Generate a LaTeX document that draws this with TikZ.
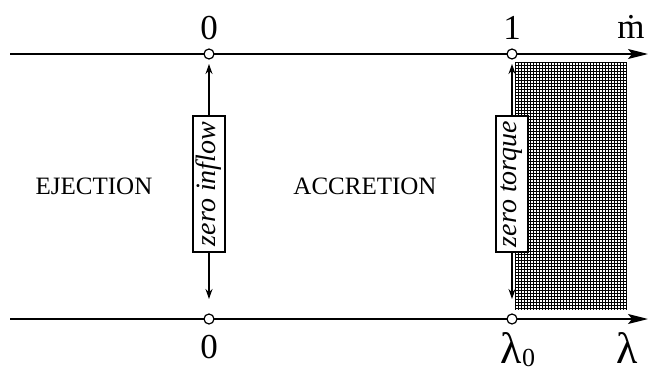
\documentclass[tikz,border=0pt]{standalone}
\usepackage{fontspec}
\setmainfont{Liberation Serif}[ItalicFont={Liberation Serif Italic}]
\usetikzlibrary{arrows.meta}
\tikzset{
  axis/.style={line width=1.4pt,-{Stealth[length=20pt,width=10pt,inset=4pt]}},
  tick/.style={circle,draw,line width=1.2pt,fill=white,minimum size=10pt,inner sep=0pt},
  biglab/.style={inner sep=0pt,font=\fontsize{35}{40}\selectfont},
  lamlab/.style={inner sep=0pt,font=\fontsize{44}{48}\selectfont},
  region/.style={inner sep=0pt,font=\fontsize{25}{28}\selectfont},
  condbox/.style={draw,line width=1.3pt,fill=white,rotate=90,minimum width=136pt,minimum height=32pt,inner sep=0pt,font=\fontsize{28}{30}\selectfont\itshape},
  varrow/.style={line width=1.3pt,-{Stealth[length=10pt,width=7pt]}},
  gridline/.style={line width=0.45pt}
}
\begin{document}
\begin{tikzpicture}[x=1pt,y=-1pt]
\useasboundingbox (0,0) rectangle (662,372);
% grid region
\foreach \gx in {515,518,...,627} \draw[gridline] (\gx,62) -- (\gx,310);
\foreach \gy in {62,65,...,310} \draw[gridline] (515,\gy) -- (627,\gy);
% axes
\coordinate (ts) at (10,54);
\coordinate (te) at (648,54);
\coordinate (bs) at (10,319);
\coordinate (be) at (648,319);
\draw[axis] (ts) -- (te);
\draw[axis] (bs) -- (be);
\node[tick] (c0t) at (209,54) {};
\node[tick] (c1t) at (512,54) {};
\node[tick] (c0b) at (209,319) {};
\node[tick] (c1b) at (512,319) {};
% labels
\node[biglab] (l0t) at (209,28) {0};
\node[biglab] (l1t) at (512,28) {1};
\node[biglab,anchor=base] (lmdot) at (631,38) {\.{m}};
\node[biglab] (l0b) at (209,347) {0};
\node[lamlab,anchor=base] (llam0) at (511,363) {λ};
\node[inner sep=0pt,anchor=base west,font=\fontsize{26}{30}\selectfont] (lsub) at (llam0.base east) {\raisebox{-3pt}{0}};
\node[lamlab,anchor=base] (llam) at (627,363) {λ};
\node[region] (ej) at (94,186) {EJECTION};
\node[region] (acc) at (365,186) {ACCRETION};
% condition boxes
\node[condbox] (zi) at (209,184) {zero inflow};
\node[condbox] (zt) at (512,184) {zero torque};
\coordinate (zit) at (209,64);
\coordinate (zib) at (209,299);
\coordinate (ztt) at (512,64);
\coordinate (ztb) at (512,299);
\draw[varrow] (zi.east) -- (zit);
\draw[varrow] (zi.west) -- (zib);
\draw[varrow] (zt.east) -- (ztt);
\draw[varrow] (zt.west) -- (ztb);
\end{tikzpicture}
\end{document}
